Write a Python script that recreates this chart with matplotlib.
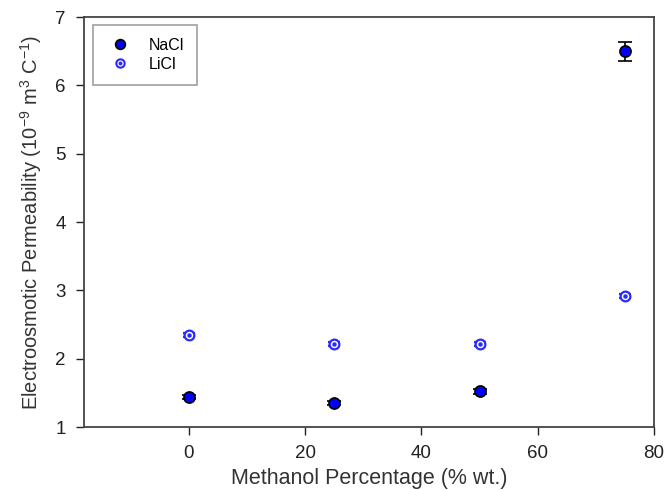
import matplotlib
matplotlib.use("Agg")
import matplotlib.pyplot as plt
from matplotlib.lines import Line2D

plt.rcParams["font.family"] = ["Liberation Sans", "DejaVu Sans"]
plt.rcParams["mathtext.fontset"] = "custom"
plt.rcParams["mathtext.rm"] = "Liberation Sans"
plt.rcParams["mathtext.default"] = "regular"

# ── Data ──────────────────────────────────────────────────────────────────────
methanol = [0, 25, 50, 75]
nacl = [1.44, 1.35, 1.52, 6.50]
nacl_err = [0.03, 0.03, 0.03, 0.14]
licl = [2.34, 2.21, 2.21, 2.92]
licl_err = [0.03, 0.03, 0.03, 0.03]

fig = plt.figure(figsize=(6.69, 4.90), dpi=100)
ax = fig.add_axes([84 / 669, 1 - 427 / 490, (654 - 84) / 669, (427 - 17) / 490])

# NaCl: filled blue circle, black edge
ax.errorbar(methanol, nacl, yerr=nacl_err, fmt="o", color="black",
            mfc="#0000ff", mec="black", ms=8, mew=1.2,
            elinewidth=1.2, capsize=5, capthick=1.2, zorder=3)

# LiCl: blue ring with dot
ax.errorbar(methanol, licl, yerr=licl_err, fmt="o", color="#2a2aff",
            mfc="white", mec="#2a2aff", ms=7, mew=1.6,
            elinewidth=1.2, capsize=4, capthick=1.2, zorder=3)
ax.plot(methanol, licl, "o", color="#2a2aff", ms=2.2, zorder=4)

ax.set_xlim(-18, 80)
ax.set_ylim(1, 7)
ax.set_xticks([0, 20, 40, 60, 80])
ax.set_yticks([1, 2, 3, 4, 5, 6, 7])
ax.tick_params(direction="out", length=6, width=1, labelsize=13.5,
               colors="#222222", pad=7)
for s in ax.spines.values():
    s.set_color("#444444")
    s.set_linewidth(1.3)

ax.set_xlabel("Methanol Percentage (% wt.)", fontsize=15.5, color="#333333", labelpad=4)
ax.set_ylabel(r"Electroosmotic Permeability (10$^{-9}$ m$^{3}$ C$^{-1}$)",
              fontsize=14.5, color="#333333", labelpad=8)

# legend
h_nacl = Line2D([], [], marker="o", ls="", mfc="#0000ff", mec="black", ms=7, mew=1.2)
h_licl = Line2D([], [], marker="o", ls="", mfc="white", mec="#2a2aff", ms=6, mew=1.5)
h_dot = Line2D([], [], marker="o", ls="", color="#2a2aff", ms=1.8)
leg = ax.legend([h_nacl, (h_licl, h_dot)], ["NaCl", "LiCl"], loc="upper left",
                bbox_to_anchor=(0.015, 0.98), fontsize=11.5, frameon=True,
                fancybox=False, edgecolor="#888888", borderpad=0.8,
                handlelength=1.8, handletextpad=0.9, labelspacing=0.25,
                borderaxespad=0)
leg.get_frame().set_linewidth(1.2)

fig.savefig("out.png", dpi=100)
